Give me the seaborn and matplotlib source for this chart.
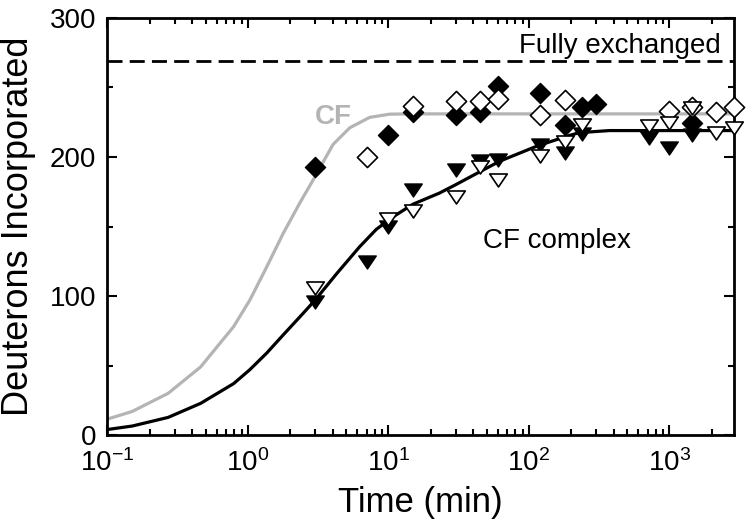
import numpy as np
import matplotlib
matplotlib.use("Agg")
import matplotlib.pyplot as plt
import seaborn as sns
from matplotlib.path import Path
from matplotlib.ticker import LogLocator, FixedLocator, NullFormatter

# ---------------- data ----------------
# CF, filled diamonds
cf_filled_t = [3, 10, 15, 30, 45, 60, 120, 180, 240, 300, 1440]
cf_filled_d = [192.6, 215.8, 232, 230.2, 232.4, 251, 245.7, 223, 236.3, 238.1, 224.5]
# CF, open diamonds
cf_open_t = [7, 15, 30, 45, 60, 120, 180, 1000, 1440, 2160, 2880]
cf_open_d = [199.8, 237, 240.3, 240.6, 242, 230.2, 241, 233, 236.3, 232.6, 236]
# CF complex, filled triangles
cx_filled_t = [3, 7, 10, 15, 30, 45, 60, 120, 180, 240, 720, 1000, 1440]
cx_filled_d = [95.9, 124.7, 149.9, 176.5, 190.6, 197.1, 197.8, 208.6, 203.1, 216.5, 213.5, 206.5, 215.8]
# CF complex, open triangles
cx_open_t = [3, 10, 15, 30, 45, 60, 120, 180, 240, 720, 1000, 1440, 2160, 2880]
cx_open_d = [105.5, 155.2, 161.4, 171.2, 193, 183.8, 200.5, 211, 222.7, 222.1, 224.2, 235, 217.6, 221.2]

# fitted curves
cf_fit_t = [0.1, 0.15, 0.27, 0.46, 0.79, 1.03, 1.36, 1.78, 2.34, 2.91, 3.5, 4.03, 5.3, 7.35, 10.2, 14, 30, 2880]
cf_fit_d = [11.5, 17, 30, 49, 78, 97, 121, 145, 167, 183.5, 198, 209, 221, 228.5, 230.8, 231, 231, 231]
cx_fit_t = [0.1, 0.15, 0.27, 0.46, 0.79, 1.03, 1.36, 1.78, 2.34, 3.0, 4.27, 6.24, 8.2, 10.8,
            14.9, 23, 30, 44, 62, 115, 194, 228, 373, 2880]
cx_fit_d = [4, 6.5, 12.7, 22.8, 37, 47, 59, 72, 85, 97, 116, 135.5, 148, 157,
            166, 174, 180, 189, 197, 208, 215.5, 217.5, 219, 219]

fully_exchanged = 269
y_ticks = [0, 100, 200, 300]
y_minor = [50, 150, 250]
x_limits = (0.1, 2880)
y_limits = (0, 300)

# ---------------- styling ----------------
sns.set_theme(style="ticks")
plt.rcParams["font.family"] = ["Liberation Sans", "DejaVu Sans"]
plt.rcParams["mathtext.fontset"] = "custom"
plt.rcParams["mathtext.rm"] = "Liberation Sans"
plt.rcParams["mathtext.it"] = "Liberation Sans:italic"
plt.rcParams["mathtext.bf"] = "Liberation Sans:bold"
for k in ["text.color", "axes.labelcolor", "xtick.color", "ytick.color", "axes.edgecolor"]:
    plt.rcParams[k] = "black"

GRAY = "#b4b4b4"

fig = plt.figure(figsize=(7.49, 5.28), dpi=100)
ax = fig.add_axes([0.1435, 0.176, 0.8365, 0.790])

# curves
sns.lineplot(x=cf_fit_t, y=cf_fit_d, ax=ax, color=GRAY, lw=2.3, sort=False,
             estimator=None, zorder=2)
sns.lineplot(x=cx_fit_t, y=cx_fit_d, ax=ax, color="black", lw=2.3, sort=False,
             estimator=None, zorder=2)
ax.axhline(fully_exchanged, color="black", lw=2, ls=(0, (5.4, 2.6)), zorder=2)

# flattened down-pointing triangle marker
tri = Path([(-1, 0.74), (1, 0.74), (0, -0.74), (-1, 0.74)],
           [Path.MOVETO, Path.LINETO, Path.LINETO, Path.CLOSEPOLY])

common = dict(ax=ax, clip_on=False, legend=False)
sns.scatterplot(x=cf_filled_t, y=cf_filled_d, marker="D", s=105, color="black",
                edgecolor="black", linewidth=1.0, zorder=3, **common)
sns.scatterplot(x=cf_open_t, y=cf_open_d, marker="D", s=105, color="white",
                edgecolor="black", linewidth=1.2, zorder=4, **common)
sns.scatterplot(x=cx_filled_t, y=cx_filled_d, marker=tri, s=160, color="black",
                edgecolor="black", linewidth=1.0, zorder=5, **common)
sns.scatterplot(x=cx_open_t, y=cx_open_d, marker=tri, s=160, color="white",
                edgecolor="black", linewidth=1.2, zorder=6, **common)

# axes
ax.set_xscale("log")
ax.set_xlim(*x_limits)
ax.set_ylim(*y_limits)
ax.xaxis.set_major_locator(LogLocator(base=10, numticks=20))
ax.xaxis.set_minor_locator(LogLocator(base=10, subs=np.arange(2, 10), numticks=100))
ax.xaxis.set_minor_formatter(NullFormatter())
ax.yaxis.set_major_locator(FixedLocator(y_ticks))
ax.yaxis.set_minor_locator(FixedLocator(y_minor))
ax.tick_params(which="both", direction="in", top=True, right=True, width=1.5,
               labelsize=20, colors="black")
ax.tick_params(axis="y", pad=8)
ax.tick_params(axis="x", pad=10.5)
ax.tick_params(which="major", length=7.2)
ax.tick_params(which="minor", length=4.6)
for sp in ax.spines.values():
    sp.set_linewidth(2)
    sp.set_color("black")

ax.set_xlabel("Time (min)", fontsize=25, labelpad=6)
ax.set_ylabel("Deuterons Incorporated", fontsize=26, labelpad=10)

# annotations
ax.text(2330, 275, "Fully exchanged", ha="right", va="baseline", fontsize=20)
ax.text(2.99, 224, "CF", color=GRAY, fontweight="bold", fontsize=20,
        ha="left", va="baseline")
ax.text(46.7, 134.5, "CF complex", fontsize=20, ha="left", va="baseline")

fig.savefig("out.png", dpi=100)
